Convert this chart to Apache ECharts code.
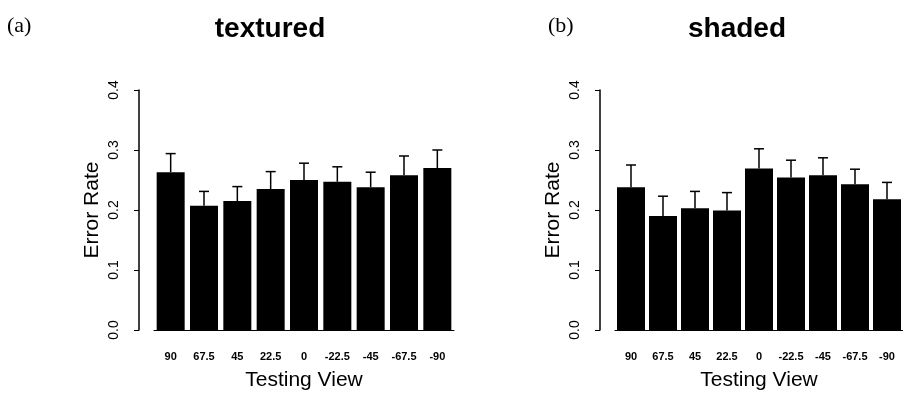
<!DOCTYPE html>
<html>
<head>
<meta charset="utf-8">
<script src="https://cdn.jsdelivr.net/npm/echarts@6/dist/echarts.min.js"></script>
<style>
  html, body { margin: 0; padding: 0; background: #fff; }
  #chart { width: 903px; height: 396px; }
</style>
</head>
<body>
<div id="chart"></div>
<script>
// testing views (degrees)
const categories = ["90", "67.5", "45", "22.5", "0", "-22.5", "-45", "-67.5", "-90"];
// mean error rates
const texturedMean = [0.263, 0.207, 0.215, 0.235, 0.250, 0.247, 0.238, 0.258, 0.270];
const shadedMean = [0.238, 0.190, 0.203, 0.199, 0.269, 0.254, 0.258, 0.243, 0.218];
// error bar heights (above the mean)
const texturedErr = [0.031, 0.024, 0.024, 0.029, 0.028, 0.025, 0.025, 0.032, 0.030];
const shadedErr = [0.037, 0.033, 0.028, 0.030, 0.033, 0.029, 0.029, 0.025, 0.028];
const yTicks = [0, 0.1, 0.2, 0.3, 0.4];

const FONT = "Liberation Sans";

function errData(mean, err) {
  return mean.map((m, i) => [i, m, m + err[i]]);
}

function renderErr(params, api) {
  const base = api.coord([api.value(0), api.value(1)]);
  const top = api.coord([api.value(0), api.value(2)]);
  const style = { stroke: "#000", lineWidth: 1.5 };
  return {
    type: "group",
    children: [
      { type: "line", shape: { x1: base[0], y1: base[1], x2: top[0], y2: top[1] }, style: style },
      { type: "line", shape: { x1: top[0] - 5, y1: top[1], x2: top[0] + 5, y2: top[1] }, style: style },
    ],
  };
}

function xAxisFor(idx) {
  return {
    type: "category",
    gridIndex: idx,
    data: categories,
    name: "Testing View",
    nameLocation: "middle",
    nameGap: 40,
    nameTextStyle: { fontFamily: FONT, fontSize: 21, color: "#000" },
    axisLine: { show: true, lineStyle: { color: "#000", width: 1 } },
    axisTick: { show: false },
    axisLabel: {
      interval: 0,
      margin: 21,
      fontFamily: FONT,
      fontSize: 11,
      fontWeight: "bold",
      color: "#000",
    },
  };
}

function yAxisFor(idx) {
  return {
    type: "value",
    gridIndex: idx,
    min: 0,
    max: 0.4,
    interval: 0.1,
    offset: 15,
    name: "Error Rate",
    nameLocation: "middle",
    nameGap: 36,
    nameTextStyle: { fontFamily: FONT, fontSize: 21, color: "#000" },
    splitLine: { show: false },
    axisLine: { show: true, lineStyle: { color: "#000", width: 1.5 } },
    axisTick: { show: true, length: 5, lineStyle: { color: "#000" } },
    axisLabel: {
      rotate: 90,
      margin: 18,
      fontFamily: FONT,
      fontSize: 14,
      color: "#000",
      formatter: (v) => (yTicks.includes(+v.toFixed(1)) ? v.toFixed(1) : ""),
    },
  };
}

const chart = echarts.init(document.getElementById("chart"));
chart.setOption({
  animation: false,
  backgroundColor: "#fff",
  graphic: [
    { type: "text", x: 7, y: 26, style: { text: "(a)", font: "22px 'Liberation Serif'", fill: "#000", verticalAlign: "middle" } },
    { type: "text", x: 548, y: 26, style: { text: "(b)", font: "22px 'Liberation Serif'", fill: "#000", verticalAlign: "middle" } },
    { type: "text", x: 270, y: 29, style: { text: "textured", font: "bold 28px 'Liberation Sans'", fill: "#000", align: "center", verticalAlign: "middle" } },
    { type: "text", x: 737, y: 29, style: { text: "shaded", font: "bold 28px 'Liberation Sans'", fill: "#000", align: "center", verticalAlign: "middle" } },
  ],
  grid: [
    { left: 154, top: 90, width: 300, height: 242 },
    { left: 615, top: 90, width: 300, height: 242 },
  ],
  xAxis: [xAxisFor(0), xAxisFor(1)],
  yAxis: [yAxisFor(0), yAxisFor(1)],
  series: [
    {
      type: "bar",
      xAxisIndex: 0,
      yAxisIndex: 0,
      data: texturedMean,
      barWidth: 28,
      itemStyle: { color: "#000" },
    },
    {
      type: "custom",
      xAxisIndex: 0,
      yAxisIndex: 0,
      data: errData(texturedMean, texturedErr),
      renderItem: renderErr,
      z: 3,
    },
    {
      type: "bar",
      xAxisIndex: 1,
      yAxisIndex: 1,
      data: shadedMean,
      barWidth: 28,
      itemStyle: { color: "#000" },
    },
    {
      type: "custom",
      xAxisIndex: 1,
      yAxisIndex: 1,
      data: errData(shadedMean, shadedErr),
      renderItem: renderErr,
      z: 3,
    },
  ],
});
window.addEventListener("resize", function () {
  chart.resize();
});
</script>
</body>
</html>
